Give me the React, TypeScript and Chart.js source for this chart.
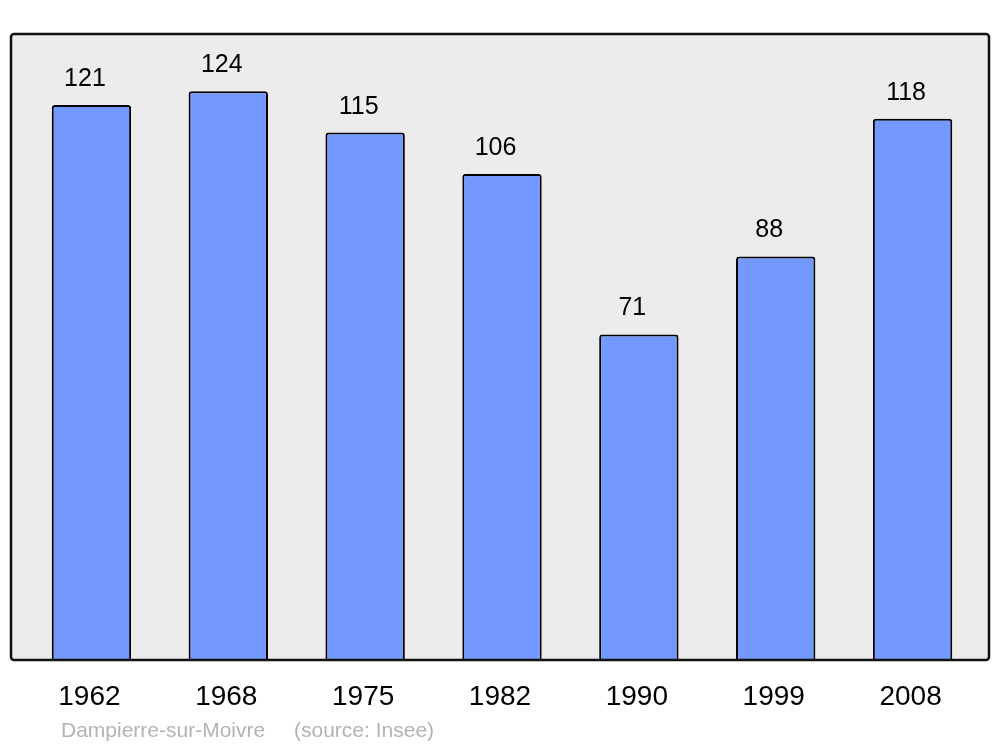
import React, { useEffect, useRef } from "react";
import { Chart, registerables } from "chart.js";

Chart.register(...registerables);

const years = ["1962", "1968", "1975", "1982", "1990", "1999", "2008"];
const population = [121, 124, 115, 106, 71, 88, 118];
const commune = "Dampierre-sur-Moivre";
const source = "(source: Insee)";

const FONT = '"Liberation Sans", Arial, sans-serif';

function roundRect(ctx: CanvasRenderingContext2D, x: number, y: number, w: number, h: number, r: number) {
  ctx.beginPath();
  ctx.moveTo(x + r, y);
  ctx.lineTo(x + w - r, y);
  ctx.arcTo(x + w, y, x + w, y + r, r);
  ctx.lineTo(x + w, y + h - r);
  ctx.arcTo(x + w, y + h, x + w - r, y + h, r);
  ctx.lineTo(x + r, y + h);
  ctx.arcTo(x, y + h, x, y + h - r, r);
  ctx.lineTo(x, y + r);
  ctx.arcTo(x, y, x + r, y, r);
  ctx.closePath();
}

const framePlugin = {
  id: "frame",
  beforeDatasetsDraw(chart: any) {
    const { ctx, chartArea } = chart;
    const x0 = chartArea.left - 12;
    const x1 = chartArea.right + 8;
    ctx.save();
    roundRect(ctx, x0, chartArea.top, x1 - x0, chartArea.bottom - chartArea.top, 3);
    ctx.fillStyle = "#ececec";
    ctx.fill();
    ctx.restore();
  },
  afterDatasetsDraw(chart: any) {
    const { ctx, chartArea } = chart;
    const x0 = chartArea.left - 12;
    const x1 = chartArea.right + 8;
    ctx.save();
    roundRect(ctx, x0, chartArea.top, x1 - x0, chartArea.bottom - chartArea.top, 3);
    ctx.lineWidth = 2.5;
    ctx.strokeStyle = "#111111";
    ctx.stroke();

    const meta = chart.getDatasetMeta(0);
    ctx.fillStyle = "#000000";
    ctx.textAlign = "center";
    ctx.textBaseline = "alphabetic";
    ctx.font = `25px ${FONT}`;
    meta.data.forEach((bar: any, i: number) => {
      ctx.fillText(String(population[i]), bar.x - 6.5, bar.y - 19);
    });

    const xScale = chart.scales.x;
    ctx.font = `28px ${FONT}`;
    years.forEach((y, i) => {
      ctx.fillText(y, xScale.getPixelForValue(i) - 2, chartArea.bottom + 45);
    });

    ctx.font = `21px ${FONT}`;
    ctx.fillStyle = "#b3b3b3";
    ctx.textAlign = "left";
    ctx.fillText(commune, 61, chartArea.bottom + 77);
    ctx.fillText(source, 294, chartArea.bottom + 77);
    ctx.restore();
  },
};

export default function App() {
  const ref = useRef<HTMLCanvasElement | null>(null);
  useEffect(() => {
    if (!ref.current) return;
    const chart = new Chart(ref.current, {
      type: "bar",
      data: {
        labels: years,
        datasets: [
          {
            data: population,
            backgroundColor: "#7399ff",
            borderColor: "#000000",
            borderWidth: 2,
            borderRadius: 3,
            borderSkipped: "start",
            barPercentage: 0.58,
            categoryPercentage: 1,
          },
        ],
      },
      options: {
        responsive: false,
        animation: false,
        layout: { padding: { left: 23, right: 19, top: 34, bottom: 87 } },
        plugins: { legend: { display: false }, tooltip: { enabled: false } },
        scales: {
          x: { display: false },
          y: { display: false, min: 0, max: 136.5 },
        },
      },
      plugins: [framePlugin],
    });
    return () => chart.destroy();
  }, []);
  return (
    <div style={{ position: "absolute", left: 0, top: 0, width: 1000, height: 747, background: "#fff" }}>
      <canvas ref={ref} width={1000} height={747} />
    </div>
  );
}
